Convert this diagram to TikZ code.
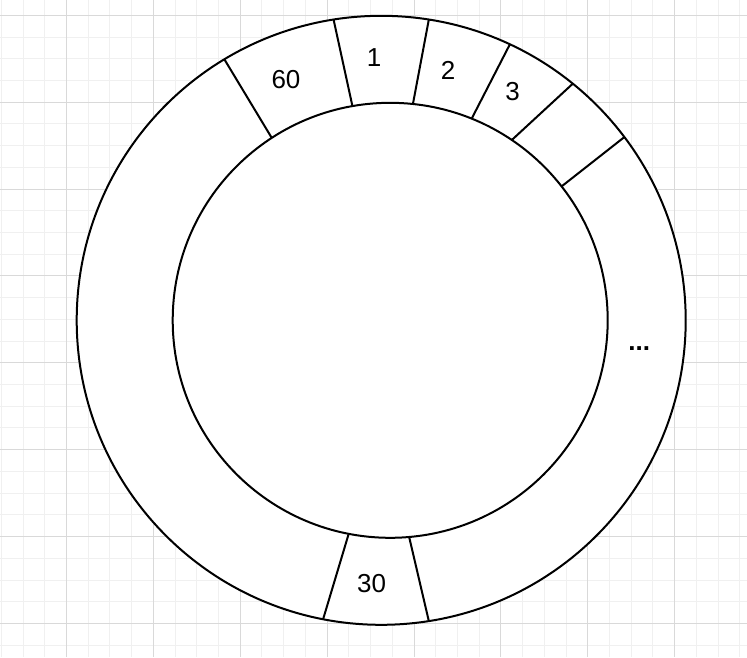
\documentclass[tikz,border=0pt]{standalone}
\usepackage{fontspec}
\setmainfont{Liberation Sans}
\definecolor{gridminor}{RGB}{240,240,240}
\definecolor{gridmajor}{RGB}{217,217,217}
\tikzset{
  minorline/.style={draw=gridminor, line width=1pt},
  majorline/.style={draw=gridmajor, line width=1pt},
  ring/.style={circle, draw=black, fill=white, line width=2pt, inner sep=0pt, outer sep=0pt},
  divider/.style={draw=black, line width=2pt},
  lbl/.style={inner sep=0pt, font=\fontsize{26}{30}\selectfont}
}
\begin{document}
\begin{tikzpicture}[x=1pt,y=-1pt]
\useasboundingbox (0,0) rectangle (747,657);
\begin{scope}
\clip (0,0) rectangle (747,657);
\foreach \i in {0,...,34} {\draw[minorline] ({1.34+21.72*\i},0) -- ++(0,657);}
\foreach \j in {0,...,29} {\draw[minorline] (0,{15.3+21.72*\j}) -- ++(747,0);}
\foreach \k in {0,...,7} {\draw[majorline] ({66.5+86.88*\k},0) -- ++(0,657);}
\foreach \k in {0,...,7} {\draw[majorline] (0,{15.3+86.88*\k}) -- ++(747,0);}
\end{scope}
\node[ring, minimum size=609pt] (outer) at (381.2,320.3) {};
\node[ring, minimum size=435pt] (inner) at (390.2,320.3) {};
\draw[divider] (outer.121.7) -- (inner.123.3);
\draw[divider] (outer.99.9) -- (inner.100.5);
\draw[divider] (outer.81.6) -- (inner.84.8);
\draw[divider] (outer.65.2) -- (inner.68.2);
\draw[divider] (outer.51.5) -- (inner.56.5);
\draw[divider] (outer.37.7) -- (inner.38.9);
\draw[divider] (outer.-101.0) -- (inner.-101.5);
\draw[divider] (outer.-81.9) -- (inner.-85.7);
\node[lbl] (l60) at (286,79.7) {60};
\node[lbl] (l1) at (374,57.8) {1};
\node[lbl] (l2) at (448,70.5) {2};
\node[lbl] (l3) at (512.7,91.3) {3};
\node[lbl] (l30) at (371.7,583.7) {30};
\node[lbl, anchor=base, font=\fontsize{26}{30}\selectfont\bfseries] (ldots) at (639.3,350) {...};
\end{tikzpicture}
\end{document}
